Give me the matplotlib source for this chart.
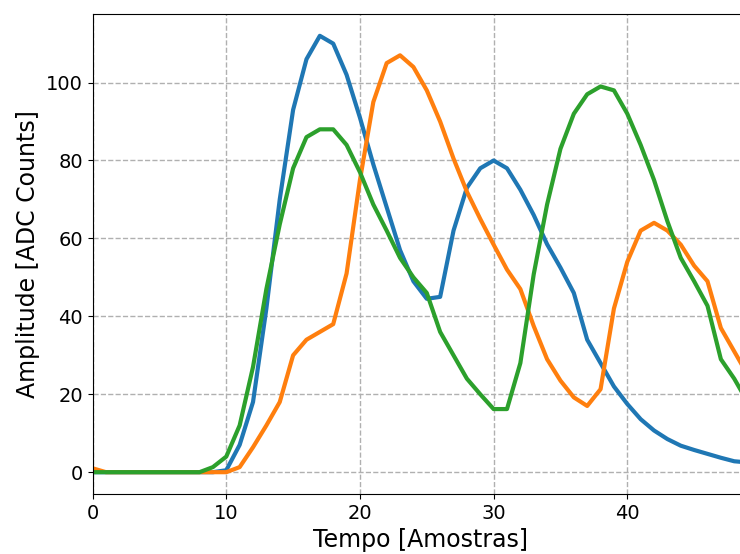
import matplotlib
matplotlib.use("Agg")
import matplotlib.pyplot as plt
import numpy as np

samples = list(range(50))
blue = [0, 0, 0, 0, 0, 0, 0, 0, 0, 0,
        0.5, 7, 18, 42, 70, 93, 106, 112, 110, 102,
        91, 79, 68, 57, 49, 44.5, 45, 62, 73, 78,
        80, 78, 72.5, 66, 58.5, 52.5, 46, 34, 28, 22,
        17.5, 13.6, 10.7, 8.5, 6.8, 5.7, 4.7, 3.7, 2.8, 2.5]
orange = [1, 0, 0, 0, 0, 0, 0, 0, 0, 0,
          0, 1.3, 6.4, 12, 18, 30, 34, 36, 38, 51,
          75, 95, 105, 107, 104, 98, 90, 80.5, 72, 65,
          58.4, 52, 47, 37.5, 29, 23.5, 19.2, 17, 21.3, 42,
          54, 62, 64, 62, 58.4, 53, 49, 37, 31, 25]
green = [0, 0, 0, 0, 0, 0, 0, 0, 0, 1.3,
         4, 12, 27, 47, 63.6, 78, 86, 88, 88, 84,
         77, 68.7, 62, 55, 50, 46, 36, 30, 24, 20,
         16.2, 16.2, 28, 50.8, 68.7, 83, 92, 97, 99, 98,
         92, 84, 75, 64.4, 55, 49, 42.7, 29, 24, 18]

fig = plt.figure(figsize=(7.40, 5.54), dpi=100)
ax = fig.add_axes([92.6 / 740, 60 / 554, 655 / 740, 480 / 554])
ax.plot(samples, blue, color="#1f77b4", lw=3)
ax.plot(samples, orange, color="#ff7f0e", lw=3)
ax.plot(samples, green, color="#2ca02c", lw=3)
ax.set_xlim(0, 49)
ax.set_xticks([0, 10, 20, 30, 40])
ax.set_yticks([0, 20, 40, 60, 80, 100])
ax.grid(True, linestyle="--", color="#b0b0b0", lw=1)
ax.tick_params(labelsize=14)
ax.set_xlabel("Tempo [Amostras]", fontsize=17)
ax.set_ylabel("Amplitude [ADC Counts]", fontsize=17)
fig.savefig("out.png", dpi=100)
